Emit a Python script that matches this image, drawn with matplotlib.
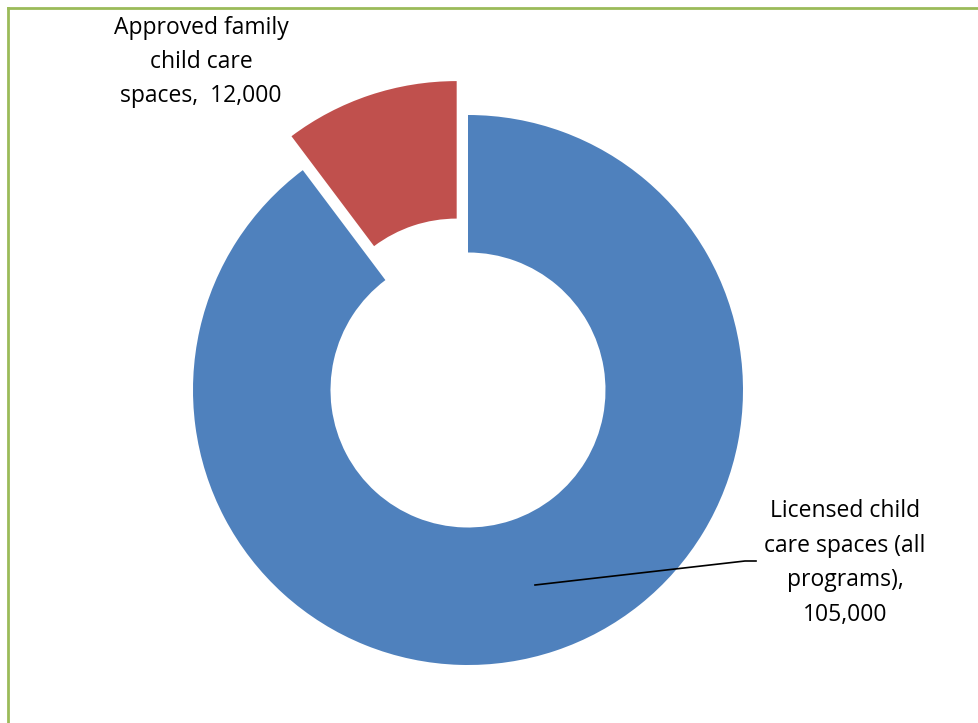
import matplotlib.pyplot as plt
from matplotlib.lines import Line2D

labels = ['Licensed child\ncare spaces (all\nprograms),\n105,000',
          'Approved family\nchild care\nspaces,  12,000']
values = [105000, 12000]
colors = ['#4F81BD', '#C0504D']
explode_frac = [0, 0.13]

W, H = 979, 723
fig = plt.figure(figsize=(W / 100, H / 100), dpi=100)
ax = fig.add_axes([0, 0, 1, 1])

# pixel-like data coordinates, y measured from bottom
cx, cy, r = 468, H - 390, 275
# explode is taken in data units here, so scale by the radius
ax.pie(values, colors=colors, explode=[e * r for e in explode_frac],
       startangle=90, counterclock=False,
       center=(cx, cy), radius=r, wedgeprops=dict(width=r * 0.5, linewidth=0))

ax.set_xlim(0, W)
ax.set_ylim(0, H)
ax.set_aspect('equal')
ax.axis('off')

font = dict(family=['Open Sans', 'DejaVu Sans'], fontsize=16.5, color='black',
            ha='center', va='center', linespacing=1.58)
ax.text(845, H - 563, labels[0], **font)
ax.text(201, H - 62, labels[1], **font)

# leader line for the large slice
ax.plot([535, 745, 756], [H - 585, H - 561, H - 561], color='black', lw=1.2)

# green frame (top and left edges only)
fig.add_artist(Line2D([8 / W, 1], [1 - 8 / H, 1 - 8 / H], color='#9BBB59', lw=2))
fig.add_artist(Line2D([8 / W, 8 / W], [0, 1 - 8 / H], color='#9BBB59', lw=2))

fig.savefig('out.png', dpi=100, facecolor='white')
